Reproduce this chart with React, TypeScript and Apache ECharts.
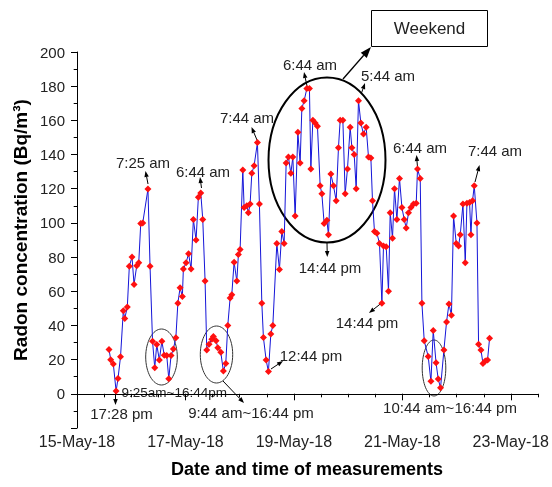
import React, { useEffect, useRef } from "react";
import * as echarts from "echarts";

// hours since 15-May-18 00:00
const hours = [
  14.17, 14.92, 16.07, 17.3, 18.15, 19.26, 20.5, 21.12, 22.27, 23.16,
  24.35, 25.24, 26.44, 27.32, 28.21, 29.09, 31.4, 32.32, 33.43, 34.41,
  35.29, 36.44, 37.55, 38.61, 39.72, 40.61, 41.62, 42.64, 43.75, 44.63,
  45.61, 46.63, 47.07, 48.27, 49.37, 50.48, 51.5, 52.69, 53.71, 54.77,
  55.66, 56.68, 57.43, 58.45, 59.65, 60.35, 61.55, 62.3, 63.63, 64.78,
  65.84, 66.73, 67.75, 68.5, 69.52, 70.72, 71.42, 72.18, 73.37, 73.95,
  75.14, 75.85, 76.6, 77.36, 78.38, 79.84, 80.72, 81.79, 82.49, 83.69,
  84.71, 85.77, 86.66, 88.43, 89.58, 90.64, 91.66, 92.55, 93.56, 94.63,
  95.51, 96.53, 97.73, 98.74, 99.5, 100.52, 101.71, 102.86, 103.48, 104.37,
  105.39, 106.41, 107.6, 108.35, 109.37, 110.57, 111.28, 112.34, 113.49, 114.69,
  115.7, 116.46, 117.65, 118.67, 119.69, 120.88, 121.64, 122.66, 123.54, 124.56,
  125.62, 126.77, 127.97, 128.99, 130.05, 130.76, 131.64, 132.71, 133.86, 134.92,
  135.63, 136.83, 137.84, 138.6, 139.61, 140.5, 141.56, 142.71, 143.78, 144.8,
  145.68, 146.7, 147.76, 148.91, 150.11, 150.69, 151.88, 152.63, 153.65, 155.42,
  156.62, 157.64, 158.88, 159.85, 160.87, 162.37, 163.53, 164.59, 165.7, 166.63,
  167.82, 168.84, 169.59, 170.79, 171.81, 172.56, 173.71, 174.33, 175.04, 175.79,
  176.99, 177.7, 178.76, 179.64, 180.66, 181.68, 182.57,
];

// Radon concentration (Bq/m3)
const radon = [
  26, 20, 17.5, 1.6, 9, 21.7, 48.6, 44, 50.8, 74.7,
  80, 64, 75, 76.7, 99.6, 100, 119.8, 74.7, 30.8, 15.2,
  28.8, 19.8, 30.8, 22.5, 22.4, 8.8, 22.4, 26.2, 32.8, 53,
  62, 57, 73, 76.7, 82, 73, 102, 90, 115, 117.5,
  102, 66, 25.7, 29, 32, 33.5, 31, 27, 24.3, 13.3,
  17.8, 40, 56, 58, 77, 66, 81.5, 84.5, 131, 109,
  110, 106, 111, 129, 133.5, 147, 111, 53, 33, 19.8,
  13, 35, 40, 88, 72.7, 95, 88, 135, 138.5, 129,
  138.5, 104, 153, 135, 167, 171.5, 178.6, 178.6, 131.6, 160,
  158.4, 156.5, 121.8, 117, 99.6, 101.6, 93, 128.6, 121.8, 113,
  144, 160, 160, 117, 131.6, 156, 144, 140, 120, 171.5,
  158.4, 152, 156, 138.5, 138, 113, 95, 94, 88, 53,
  86.5, 86, 60, 106, 91, 120, 102, 126, 109, 102,
  97, 106, 109, 111, 111.5, 131.6, 126, 53, 31, 21.8,
  7.3, 37, 18.2, 8.6, 3.5, 25.7, 42, 52.6, 46, 104,
  88, 86.5, 93, 111, 76.7, 111.5, 112, 93, 113, 121.8,
  100, 29, 25.7, 17.8, 19.2, 19.8, 32.5,
];

const dateLabels = ["15-May-18", "17-May-18", "19-May-18", "21-May-18", "23-May-18"];
const xMaxHours = 204;
const majorHours = 48;

const FONT = "'Liberation Sans', Arial, sans-serif";

type Note = { text: string; x: number; y: number; size?: number; align?: string; arrow?: number[] };

const notes: Note[] = [
  { text: "7:25 am", x: 143, y: 162, arrow: [148, 184, 145.5, 171] },
  { text: "6:44 am", x: 203, y: 171, arrow: [201.5, 188, 200, 177] },
  { text: "7:44 am", x: 247, y: 117, arrow: [257, 140, 251.5, 127] },
  { text: "6:44 am", x: 310, y: 64, arrow: [307, 86, 304, 72] },
  { text: "5:44 am", x: 388, y: 75, arrow: [361.5, 93, 365, 83] },
  { text: "6:44 am", x: 420, y: 147, arrow: [417.5, 167, 416.5, 155] },
  { text: "7:44 am", x: 495, y: 150, arrow: [475, 182, 479.5, 165] },
  { text: "14:44 pm", x: 330, y: 267, arrow: [327, 243, 327.3, 257] },
  { text: "14:44 pm", x: 367, y: 322, arrow: [381.5, 303, 369, 313] },
  { text: "12:44 pm", x: 311, y: 355, arrow: [271, 369, 283, 361] },
  { text: "17:28 pm", x: 121.5, y: 413, arrow: [115.5, 392, 115.5, 405] },
  { text: "9:44 am~16:44 pm", x: 251, y: 412, arrow: [223, 381, 244, 403] },
  { text: "9:25am~16:44pm", x: 121.5, y: 392, size: 13.5, align: "left" },
  { text: "10:44 am~16:44 pm", x: 450, y: 407 },
];

function arrow(x1: number, y1: number, x2: number, y2: number, head = 6, w = 4.5, lw = 1) {
  const dx = x2 - x1, dy = y2 - y1;
  const len = Math.hypot(dx, dy) || 1;
  const ux = dx / len, uy = dy / len;
  const bx = x2 - ux * head, by = y2 - uy * head;
  const nx = -uy * (w / 2), ny = ux * (w / 2);
  return [
    { type: "line", silent: true, shape: { x1, y1, x2: bx, y2: by }, style: { stroke: "#000", lineWidth: lw } },
    {
      type: "polygon", silent: true,
      shape: { points: [[x2, y2], [bx + nx, by + ny], [bx - nx, by - ny]] },
      style: { fill: "#000" },
    },
  ];
}

export default function App() {
  const ref = useRef<HTMLDivElement>(null);
  useEffect(() => {
    const chart = echarts.init(ref.current!, null, { renderer: "svg" });
    const gridLeft = 77, gridTop = 52, gridW = 461, gridH = 376;

    const graphics: any[] = [];
    graphics.push({ type: "ellipse", silent: true, shape: { cx: 327, cy: 160, rx: 58.5, ry: 82.5 }, style: { fill: "none", stroke: "#000", lineWidth: 2 } });
    graphics.push({ type: "ellipse", silent: true, shape: { cx: 161.5, cy: 357, rx: 15.8, ry: 28 }, style: { fill: "none", stroke: "#333", lineWidth: 1 } });
    graphics.push({ type: "ellipse", silent: true, shape: { cx: 216.5, cy: 354.5, rx: 16.2, ry: 28.5 }, style: { fill: "none", stroke: "#333", lineWidth: 1 } });
    graphics.push({ type: "ellipse", silent: true, shape: { cx: 434, cy: 368, rx: 11.8, ry: 28 }, style: { fill: "none", stroke: "#333", lineWidth: 1 } });
    graphics.push({ type: "rect", silent: true, shape: { x: 371.5, y: 10.5, width: 116, height: 36 }, style: { fill: "#fff", stroke: "#000", lineWidth: 1 } });
    graphics.push({
      type: "text", silent: true, x: 429.5, y: 28.5,
      style: { text: "Weekend", font: `17px ${FONT}`, fill: "#222", textAlign: "center", textVerticalAlign: "middle" },
    });
    graphics.push(...arrow(343, 79, 371, 47, 11, 8, 1.3));

    notes.forEach((n) => {
      graphics.push({
        type: "text", silent: true, x: n.x, y: n.y,
        style: {
          text: n.text, font: `${n.size ?? 15}px ${FONT}`, fill: "#222",
          textAlign: n.align ?? "center", textVerticalAlign: "middle",
        },
      });
      if (n.arrow) graphics.push(...arrow(n.arrow[0], n.arrow[1], n.arrow[2], n.arrow[3]));
    });

    graphics.push({
      type: "text", silent: true, x: 20, y: 230, rotation: Math.PI / 2,
      style: { text: "Radon concentration (Bq/m³)", font: `bold 19px ${FONT}`, fill: "#000", textAlign: "center", textVerticalAlign: "middle" },
    });
    graphics.push({
      type: "text", silent: true, x: 307, y: 469,
      style: { text: "Date and time of measurements", font: `bold 18px ${FONT}`, fill: "#000", textAlign: "center", textVerticalAlign: "middle" },
    });

    const axisLine = { show: true, lineStyle: { color: "#000", width: 1 } };

    const option: any = {
      animation: false,
      grid: [
        { left: gridLeft, top: gridTop, width: gridW, height: gridH },
        { left: gridLeft, top: gridTop, width: (gridW * (majorHours * 4)) / xMaxHours, height: gridH },
      ],
      xAxis: [
        {
          type: "value", gridIndex: 0, min: 0, max: xMaxHours, interval: 12,
          axisLine, axisTick: { show: true, length: 3.5, lineStyle: { color: "#000" } },
          axisLabel: { show: false }, splitLine: { show: false },
        },
        {
          type: "value", gridIndex: 1, min: 0, max: majorHours * 4, interval: majorHours,
          axisLine: { show: false }, axisTick: { show: true, length: 6.5, lineStyle: { color: "#000" } },
          axisLabel: {
            show: true, margin: 5, fontSize: 16, fontFamily: FONT, color: "#222",
            formatter: (v: number) => dateLabels[Math.round(v / majorHours)] ?? "",
          },
          splitLine: { show: false },
        },
      ],
      yAxis: [
        {
          type: "value", gridIndex: 0, min: -20, max: 200, interval: 20,
          axisLine, axisTick: { show: true, length: 6, lineStyle: { color: "#000" } },
          minorTick: { show: true, splitNumber: 2, length: 3.3, lineStyle: { color: "#000" } },
          axisLabel: {
            margin: 12, fontSize: 15, fontFamily: FONT, color: "#222",
            formatter: (v: number) => (v < 0 ? "" : String(v)),
          },
          splitLine: { show: false }, minorSplitLine: { show: false },
        },
        { type: "value", gridIndex: 1, min: -20, max: 200, show: false, splitLine: { show: false } },
      ],
      series: [
        {
          type: "line", xAxisIndex: 0, yAxisIndex: 0,
          data: hours.map((h, i) => [h, radon[i]]),
          symbol: "diamond", symbolSize: 7, showSymbol: true,
          lineStyle: { color: "#1515d8", width: 1 },
          itemStyle: { color: "#ff1010" },
          z: 3,
        },
      ],
      graphic: graphics,
    };
    chart.setOption(option);
    return () => chart.dispose();
  }, []);
  return <div ref={ref} style={{ position: "fixed", left: 0, top: 0, width: 552, height: 487 }} />;
}
